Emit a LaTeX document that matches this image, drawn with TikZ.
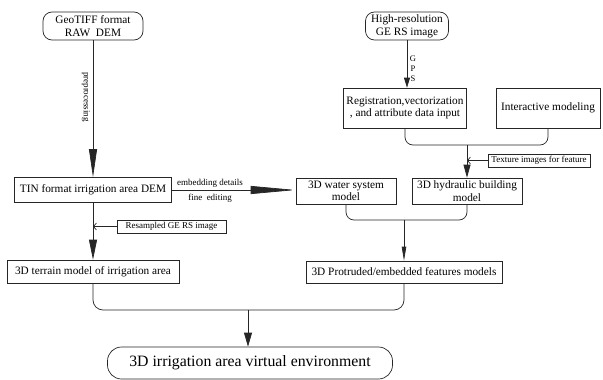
\documentclass[tikz,border=0pt]{standalone}
\usepackage{fontspec}
\setmainfont{Liberation Serif}
\usetikzlibrary{arrows.meta,calc}
\begin{document}
\begin{tikzpicture}[x=1pt,y=-1pt,
  line width=0.7pt, draw=black!85,
  mainfont/.style={font=\fontsize{11.3}{12.6}\selectfont},
  smallfont/.style={font=\fontsize{9}{10}\selectfont},
  box/.style={draw, mainfont, inner sep=0pt, align=center},
  rbox/.style={box, rounded corners=9pt},
  smallbox/.style={draw, smallfont, inner sep=0pt, align=center},
  bigtip/.style={-{Triangle[length=#1,width=8pt]}},
  feed/.style={-{Straight Barb[length=3pt,width=7pt]}},
  lbl/.style={smallfont, inner sep=0pt}
]
\useasboundingbox (0,0) rectangle (603,380);

% nodes
\node[rbox, minimum width=100pt, minimum height=28pt] (geo) at (93,26) {GeoTIFF format\\RAW\ \ DEM};
\node[rbox, minimum width=83pt, minimum height=28pt] (high) at (407,26) {High-resolution\\GE RS image};
\node[box, minimum width=123pt, minimum height=40pt] (reg) at (405,108) {Registration,vectorization\\, and attribute data input};
\node[box, minimum width=104pt, minimum height=40pt] (inter) at (548,108) {Interactive modeling};
\node[smallbox, minimum width=102pt, minimum height=13pt] (tex) at (539,160.5) {Texture images for feature};
\node[box, minimum width=157pt, minimum height=25pt] (tin) at (93,190) {TIN format irrigation area DEM};
\node[box, minimum width=100pt, minimum height=26pt] (water) at (346,191) {3D water system\\model};
\node[box, minimum width=110pt, minimum height=26pt] (hyd) at (467,191) {3D hydraulic building\\model};
\node[smallbox, minimum width=109pt, minimum height=13pt] (res) at (171.5,226.5) {Resampled GE RS image};
\node[box, minimum width=172pt, minimum height=23pt] (terr) at (93,271.5) {3D terrain model of irrigation area};
\node[box, minimum width=196pt, minimum height=22pt] (prot) at (404,272) {3D Protruded/embedded features models};
\node[draw, rounded corners=14pt, inner sep=0pt, minimum width=285pt, minimum height=32pt,
      font=\fontsize{15.8}{17}\selectfont] (fin) at (250,363) {3D irrigation area virtual environment};

% labels
\node[lbl, rotate=-90] (pre) at (86,97) {preprocessing};
\node[lbl, align=center, font=\fontsize{8.5}{10}\selectfont] (gps) at (413,69) {G\\P\\S};
\node[lbl] (emb) at (210,183) {embedding details};
\node[lbl] (fine) at (210,198.5) {fine\ \ editing};

% bracket junctions
\coordinate (j1) at (hyd.north |- 0,145);
\coordinate (j2) at (prot.north |- 0,220);
\coordinate (j3) at (248,310);

% connectors
\draw[bigtip=28pt] (geo.south) -- (geo.south |- tin.north);
\draw[{Triangle[length=10pt,width=6pt]}-] (reg.north -| high.south) -- (high.south);
\draw[-{Triangle[length=45pt,width=8pt]}] (tin.east) -- (tin.east -| water.west);
\draw[bigtip=20pt] (tin.south) -- (terr.north);
\draw[feed] (res.west) -- (res.west -| tin.south);

\draw[rounded corners=8pt] (reg.south) -- (reg.south |- j1) -- (inter.south |- j1) -- (inter.south);
\draw[-{Triangle[length=13pt,width=7pt]}] (j1) -- (hyd.north);
\draw[feed] (tex.west) -- (tex.west -| hyd.north);

\draw[rounded corners=8pt] (water.south) -- (water.south |- j2) -- (hyd.south |- j2) -- (hyd.south);
\draw[-{Triangle[length=14pt,width=4.5pt]}] (j2) -- (prot.north);

\draw[rounded corners=10pt] (terr.south) -- (terr.south |- j3) -- (prot.south |- j3) -- (prot.south);
\draw[-{Triangle[length=14pt,width=8pt]}] (j3) -- (j3 |- fin.north);
\end{tikzpicture}
\end{document}
